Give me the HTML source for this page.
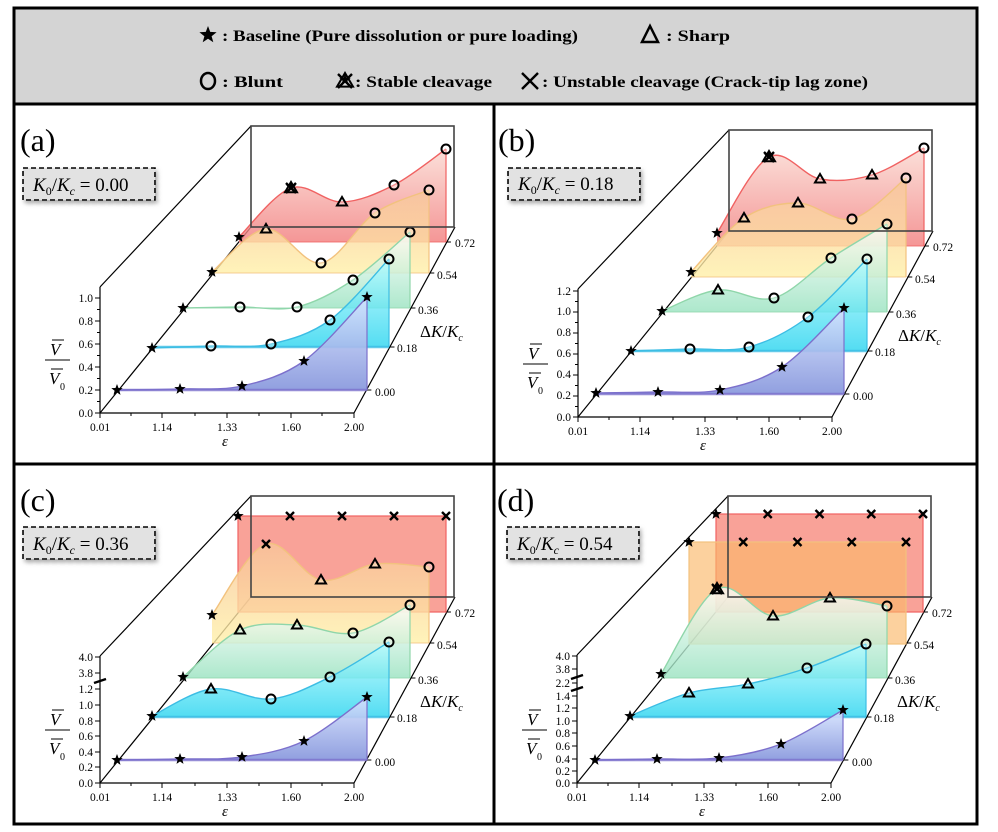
<!DOCTYPE html>
<html><head><meta charset="utf-8"><style>
html,body{margin:0;padding:0;background:#fff}
svg{display:block}
text{font-family:"Liberation Serif","DejaVu Serif",serif;fill:#000}
.t{font-size:11.5px;text-anchor:end}
.x{font-size:11.5px;text-anchor:middle}
.d{font-size:11.5px}
.lg{font-size:16px;font-weight:bold}
</style></head><body>
<svg id="s" width="998" height="832" viewBox="0 0 998 832" xmlns="http://www.w3.org/2000/svg" font-family="'Liberation Serif', 'DejaVu Serif', serif">
<defs>
<linearGradient id="g0" x1="0" y1="0" x2="0" y2="1"><stop offset="0" stop-color="#d6e4ff"/><stop offset="1" stop-color="#8595dc"/></linearGradient>
<linearGradient id="g1" x1="0" y1="0" x2="0" y2="1"><stop offset="0" stop-color="#b8fcff"/><stop offset="1" stop-color="#28d4ef"/></linearGradient>
<linearGradient id="g2" x1="0" y1="0" x2="0" y2="1"><stop offset="0" stop-color="#ffffff"/><stop offset="1" stop-color="#98e2bf"/></linearGradient>
<linearGradient id="g3" x1="0" y1="0" x2="0" y2="1"><stop offset="0" stop-color="#f8c49a"/><stop offset="1" stop-color="#fff0a8"/></linearGradient>
<linearGradient id="g4" x1="0" y1="0" x2="0" y2="1"><stop offset="0" stop-color="#fad8d0"/><stop offset="1" stop-color="#f27c7c"/></linearGradient>
<filter id="sh" x="-10%" y="-10%" width="130%" height="150%"><feDropShadow dx="2" dy="3" stdDeviation="2" flood-color="#777" flood-opacity="0.6"/></filter>
</defs>
<rect x="14" y="8" width="963" height="96" fill="#d4d4d4"/>
<g id="panels"></g>
<g stroke="#000" stroke-width="3" fill="none">
<rect x="14" y="8" width="963" height="816"/>
<line x1="14" y1="104" x2="977" y2="104"/>
<line x1="14" y1="464" x2="977" y2="464"/>
<line x1="494" y1="104" x2="494" y2="824"/>
</g>
<g id="leg"></g>
<text class="lg" x="222" y="41" textLength="356" lengthAdjust="spacingAndGlyphs">: Baseline (Pure dissolution or pure loading)</text>
<text class="lg" x="666" y="41" textLength="64" lengthAdjust="spacingAndGlyphs">: Sharp</text>
<text class="lg" x="222" y="87" textLength="61" lengthAdjust="spacingAndGlyphs">: Blunt</text>
<text class="lg" x="355" y="87" textLength="137" lengthAdjust="spacingAndGlyphs">: Stable cleavage</text>
<text class="lg" x="542" y="87" textLength="326" lengthAdjust="spacingAndGlyphs">: Unstable cleavage (Crack-tip lag zone)</text>

<g transform="translate(0,0)">
<text x="20" y="151" font-size="32">(a)</text>
<text class="t" x="93" y="417">0.0</text><text class="t" x="93" y="394">0.2</text><text class="t" x="93" y="371">0.4</text><text class="t" x="93" y="348">0.6</text><text class="t" x="93" y="325">0.8</text><text class="t" x="93" y="302">1.0</text>
</g>
<g transform="translate(478,4)">
<text x="20" y="147" font-size="32">(b)</text>
<text class="t" x="93" y="417">0.0</text><text class="t" x="93" y="395">0.2</text><text class="t" x="93" y="374">0.4</text><text class="t" x="93" y="353">0.6</text><text class="t" x="93" y="332">0.8</text><text class="t" x="93" y="311">1.0</text><text class="t" x="93" y="291">1.2</text>
</g>
<g transform="translate(0,370)">
<text x="20" y="141" font-size="32">(c)</text>
<text class="t" x="93" y="417">0.0</text><text class="t" x="93" y="401">0.2</text><text class="t" x="93" y="386">0.4</text><text class="t" x="93" y="370">0.6</text><text class="t" x="93" y="355">0.8</text><text class="t" x="93" y="339">1.0</text><text class="t" x="93" y="323">1.2</text><text class="t" x="93" y="307">3.8</text><text class="t" x="93" y="291">4.0</text>
</g>
<g transform="translate(477,370)">
<text x="20" y="141" font-size="32">(d)</text>
<text class="t" x="93" y="417">0.0</text><text class="t" x="93" y="405">0.2</text><text class="t" x="93" y="393">0.4</text><text class="t" x="93" y="380">0.6</text><text class="t" x="93" y="367">0.8</text><text class="t" x="93" y="355">1.0</text><text class="t" x="93" y="342">1.2</text><text class="t" x="93" y="330">1.4</text><text class="t" x="93" y="317">2.2</text><text class="t" x="93" y="303">3.8</text><text class="t" x="93" y="290">4.0</text>
</g>
<g transform="translate(0,0)"><text x="33" y="191" font-size="19"><tspan font-style="italic">K</tspan><tspan font-size="12" dy="4">0</tspan><tspan dy="-4">/</tspan><tspan font-style="italic">K</tspan><tspan font-size="12" dy="4" font-style="italic">c</tspan><tspan dy="-4"> = 0.00</tspan></text></g>
<g transform="translate(478,4)"><text x="40" y="186" font-size="19"><tspan font-style="italic">K</tspan><tspan font-size="12" dy="4">0</tspan><tspan dy="-4">/</tspan><tspan font-style="italic">K</tspan><tspan font-size="12" dy="4" font-style="italic">c</tspan><tspan dy="-4"> = 0.18</tspan></text></g>
<g transform="translate(0,370)"><text x="33" y="180" font-size="19"><tspan font-style="italic">K</tspan><tspan font-size="12" dy="4">0</tspan><tspan dy="-4">/</tspan><tspan font-style="italic">K</tspan><tspan font-size="12" dy="4" font-style="italic">c</tspan><tspan dy="-4"> = 0.36</tspan></text></g>
<g transform="translate(477,370)"><text x="40" y="180" font-size="19"><tspan font-style="italic">K</tspan><tspan font-size="12" dy="4">0</tspan><tspan dy="-4">/</tspan><tspan font-style="italic">K</tspan><tspan font-size="12" dy="4" font-style="italic">c</tspan><tspan dy="-4"> = 0.54</tspan></text></g>
<g>
<g transform="translate(0,0)"><text class="x" x="100" y="431">0.01</text><text class="x" x="162" y="431">1.14</text><text class="x" x="227" y="431">1.33</text><text class="x" x="291" y="431">1.60</text><text class="x" x="354" y="431">2.00</text><text x="222" y="446" font-size="15" font-style="italic">ε</text><text class="d" x="375" y="396">0.00</text><text class="d" x="397" y="352">0.18</text><text class="d" x="418" y="314">0.36</text><text class="d" x="437" y="279">0.54</text><text class="d" x="455" y="247">0.72</text><text x="420" y="337" font-size="17"><tspan>Δ</tspan><tspan font-style="italic">K</tspan>/<tspan font-style="italic">K</tspan><tspan font-size="10" dy="4" font-style="italic">c</tspan></text><text x="50" y="355" font-size="17" font-style="italic">V</text><text x="49" y="384" font-size="17" font-style="italic">V</text><text x="60" y="390" font-size="10">0</text></g>
<g transform="translate(478,4)"><text class="x" x="100" y="431">0.01</text><text class="x" x="162" y="431">1.14</text><text class="x" x="227" y="431">1.33</text><text class="x" x="291" y="431">1.60</text><text class="x" x="354" y="431">2.00</text><text x="222" y="446" font-size="15" font-style="italic">ε</text><text class="d" x="375" y="396">0.00</text><text class="d" x="397" y="352">0.18</text><text class="d" x="418" y="314">0.36</text><text class="d" x="437" y="279">0.54</text><text class="d" x="455" y="247">0.72</text><text x="420" y="337" font-size="17"><tspan>Δ</tspan><tspan font-style="italic">K</tspan>/<tspan font-style="italic">K</tspan><tspan font-size="10" dy="4" font-style="italic">c</tspan></text><text x="50" y="355" font-size="17" font-style="italic">V</text><text x="49" y="384" font-size="17" font-style="italic">V</text><text x="60" y="390" font-size="10">0</text></g>
<g transform="translate(0,370)"><text class="x" x="100" y="431">0.01</text><text class="x" x="162" y="431">1.14</text><text class="x" x="227" y="431">1.33</text><text class="x" x="291" y="431">1.60</text><text class="x" x="354" y="431">2.00</text><text x="222" y="446" font-size="15" font-style="italic">ε</text><text class="d" x="375" y="396">0.00</text><text class="d" x="397" y="352">0.18</text><text class="d" x="418" y="314">0.36</text><text class="d" x="437" y="279">0.54</text><text class="d" x="455" y="247">0.72</text><text x="420" y="337" font-size="17"><tspan>Δ</tspan><tspan font-style="italic">K</tspan>/<tspan font-style="italic">K</tspan><tspan font-size="10" dy="4" font-style="italic">c</tspan></text><text x="50" y="355" font-size="17" font-style="italic">V</text><text x="49" y="384" font-size="17" font-style="italic">V</text><text x="60" y="390" font-size="10">0</text></g>
<g transform="translate(477,370)"><text class="x" x="100" y="431">0.01</text><text class="x" x="162" y="431">1.14</text><text class="x" x="227" y="431">1.33</text><text class="x" x="291" y="431">1.60</text><text class="x" x="354" y="431">2.00</text><text x="222" y="446" font-size="15" font-style="italic">ε</text><text class="d" x="375" y="396">0.00</text><text class="d" x="397" y="352">0.18</text><text class="d" x="418" y="314">0.36</text><text class="d" x="437" y="279">0.54</text><text class="d" x="455" y="247">0.72</text><text x="420" y="337" font-size="17"><tspan>Δ</tspan><tspan font-style="italic">K</tspan>/<tspan font-style="italic">K</tspan><tspan font-size="10" dy="4" font-style="italic">c</tspan></text><text x="50" y="355" font-size="17" font-style="italic">V</text><text x="49" y="384" font-size="17" font-style="italic">V</text><text x="60" y="390" font-size="10">0</text></g>
</g>
</svg>
<script>
var NS="http://www.w3.org/2000/svg";
function el(p,t,a){var e=document.createElementNS(NS,t);for(var k in a)e.setAttribute(k,a[k]);p.appendChild(e);return e;}
function cr(pts){var d="M"+pts[0][0]+","+pts[0][1];for(var i=0;i<pts.length-1;i++){var p0=pts[i-1]||pts[i],p1=pts[i],p2=pts[i+1],p3=pts[i+2]||p2;
var c1=[p1[0]+(p2[0]-p0[0])/6,p1[1]+(p2[1]-p0[1])/6],c2=[p2[0]-(p3[0]-p1[0])/6,p2[1]-(p3[1]-p1[1])/6];
d+=" C"+c1.join(",")+" "+c2.join(",")+" "+p2.join(",");}return d;}
function star(g,x,y,r){var s="";for(var i=0;i<10;i++){var a=-Math.PI/2+i*Math.PI/5,rr=i%2?r*0.42:r;s+=(x+rr*Math.cos(a)).toFixed(1)+","+(y+rr*Math.sin(a)).toFixed(1)+" ";}el(g,"polygon",{points:s,fill:"#000"});}
function circ(g,x,y,r){el(g,"circle",{cx:x,cy:y,r:r||4.5,fill:"#fff","fill-opacity":"0.3",stroke:"#000","stroke-width":2});}
function tri(g,x,y,r){r=r||5;el(g,"polygon",{points:x+","+(y-r)+" "+(x-r)+","+(y+r*0.7)+" "+(x+r)+","+(y+r*0.7),fill:"#fff","fill-opacity":"0.3",stroke:"#000","stroke-width":2,"stroke-linejoin":"miter"});}
function cross(g,x,y,r){r=r||4;el(g,"path",{d:"M"+(x-r)+","+(y-r)+"L"+(x+r)+","+(y+r)+"M"+(x+r)+","+(y-r)+"L"+(x-r)+","+(y+r),stroke:"#000","stroke-width":2.4});}
function stab(g,x,y){tri(g,x,y,6);cross(g,x,y,5);star(g,x,y-1,5);}
function mk(g,t,x,y){if(t=="s")star(g,x,y,6);else if(t=="o")circ(g,x,y);else if(t=="t")tri(g,x,y);else if(t=="x")cross(g,x,y);else if(t=="z")stab(g,x,y);}
var cols=["#7c70cc","#3cbde4","#8fd6aa","#f2c27e","#f06262"];
var base=[390,347,308,273,242];
var P=[
 {o:[0,0],yt:[[413,1],[401.5,0],[390,1],[378.5,0],[367,1],[355.5,0],[344,1],[332.5,0],[321,1],[309.5,0],[298,1]],top:287,brk:[],
  S:[[[117,390,"s"],[180,389,"s"],[242,386,"s"],[304,361,"s"],[367,297,"s"]],
     [[152,348,"s"],[211,346,"o"],[271,344,"o"],[330,320,"o"],[389,259,"o"]],
     [[183,308,"s"],[240,307,"o"],[297,307,"o"],[353,280,"o"],[410,232,"o"]],
     [[212,272,"s"],[266,229,"t"],[321,263,"o"],[375,213,"o"],[429,190,"o"]],
     [[239,237,"s"],[291,188,"z"],[342,202,"t"],[394,185,"o"],[446,149,"o"]]],box:[23,168]},
 {o:[478,4],yt:[[413,1],[402.5,0],[392,1],[381.5,0],[371,1],[360.5,0],[350,1],[339.5,0],[329,1],[318.5,0],[308,1],[297.5,0],[287,1]],top:285,brk:[],
  S:[[[118,389,"s"],[180,388,"s"],[242,386,"s"],[304,363,"s"],[366,304,"s"]],
     [[153,347,"s"],[212,345,"o"],[271,343,"o"],[330,313,"o"],[389,255,"o"]],
     [[184,307,"s"],[240,286,"t"],[296,294,"o"],[353,254,"o"],[409,220,"o"]],
     [[213,268,"s"],[266,214,"t"],[320,199,"t"],[374,215,"o"],[428,174,"o"]],
     [[239,229,"s"],[291,153,"z"],[342,175,"t"],[394,171,"t"],[446,144,"o"]]],box:[30,164]},
 {o:[0,370],yt:[[413,1],[397,1],[382,1],[366,1],[351,1],[335,1],[319,1],[303,1],[287,1]],top:286,brk:[311],
  S:[[[117,390,"s"],[180,389,"s"],[242,387,"s"],[304,371,"s"],[367,327,"s"]],
     [[152,346,"s"],[211,319,"t"],[271,329,"o"],[330,307,"o"],[389,272,"o"]],
     [[183,307,"s"],[240,260,"t"],[297,255,"t"],[353,263,"o"],[410,235,"o"]],
     [[212,245,"s"],[266,174,"x"],[321,210,"t"],[375,194,"t"],[429,197,"o"]],
     "R"],R4:[238,446,146,242,["s","x","x","x","x"]],box:[23,157]},
 {o:[477,370],yt:[[413,1],[401,1],[389,1],[376,1],[363,1],[351,1],[338,1],[326,1],[313,1],[299,1],[286,1]],top:285,brk:[307,319],
  S:[[[118,390,"s"],[180,389,"s"],[242,388,"s"],[304,374,"s"],[366,340,"s"]],
     [[153,346,"s"],[212,323,"t"],[271,314,"t"],[330,298,"o"],[389,274,"o"]],
     [[184,304,"s"],[240,219,"z"],[296,246,"t"],[353,228,"t"],[410,236,"o"]],
     "R","R"],R3:[212,429,172,274,["s","x","x","x","x"]],R4:[239,446,144,242,["s","x","x","x","x"]],box:[30,157]}
];
var root=document.getElementById("panels");
var leg=document.getElementById("leg");
star(leg,208,35,9);
el(leg,"polygon",{points:"650,26 642,42 658,42",fill:"none",stroke:"#000","stroke-width":2.5});
el(leg,"ellipse",{cx:208,cy:81,rx:7,ry:8,fill:"none",stroke:"#000","stroke-width":2.5});
tri(leg,345,81,8);cross(leg,345,81,7);star(leg,345,80,6);
cross(leg,530,81,8);
P.forEach(function(p,pi){
 var g=el(root,"g",{transform:"translate("+p.o[0]+","+p.o[1]+")"});
 el(g,"rect",{x:p.box[0],y:p.box[1],width:132,height:32,fill:"#e2e2e2",stroke:"#000","stroke-width":1.6,"stroke-dasharray":"5,3",filter:"url(#sh)"});
 var L={stroke:"#000","stroke-width":1.2,fill:"none"};
 el(g,"line",Object.assign({x1:100,y1:p.top,x2:251,y2:126},L));
 el(g,"line",Object.assign({x1:100,y1:413,x2:251,y2:227},L));
 el(g,"line",Object.assign({x1:354,y1:413,x2:455,y2:227},L));
 el(g,"line",Object.assign({x1:100,y1:413,x2:354,y2:413},L));
 el(g,"line",Object.assign({x1:100,y1:413,x2:100,y2:p.top},L));
 p.yt.forEach(function(t){el(g,"line",{x1:t[1]?95:97,y1:t[0],x2:100,y2:t[0],stroke:"#000","stroke-width":1});});
 p.brk.forEach(function(b){el(g,"line",{x1:94,y1:b+2,x2:106,y2:b-2,stroke:"#000","stroke-width":2.5});});
 [100,131,162,195,227,259,291,322,354].forEach(function(x,i){el(g,"line",{x1:x,y1:413,x2:x,y2:i%2?416:418,stroke:"#000","stroke-width":1});});
 [390,347,308,273,242].forEach(function(y){var x=354+(413-y)*100/186;el(g,"line",{x1:x,y1:y,x2:x+5,y2:y,stroke:"#000","stroke-width":1});});
 for(var s=4;s>=0;s--){
  var S=p.S[s];
  if(S=="R"){var R=p["R"+s];
   el(g,"rect",{x:R[0],y:R[2],width:R[1]-R[0],height:R[3]-R[2],fill:s==4?"#f67a6c":"#fbb86a","fill-opacity":s==4?0.7:0.65,stroke:cols[s],"stroke-width":1.2});
   for(var k=0;k<5;k++)mk(g,R[4][k],R[0]+(R[1]-R[0])*k/4,R[2]);
   continue;}
  var pts=S.map(function(q){return [q[0],q[1]];});
  var c=cr(pts),b=base[s],x0=pts[0][0],xn=pts[4][0];
  el(g,"path",{d:"M"+x0+","+b+" L"+x0+","+pts[0][1]+c.replace(/^M[^C]*/," ")+" L"+xn+","+b+" Z",fill:"url(#g"+s+")","fill-opacity":s==0?0.9:0.8,stroke:"none"});
  el(g,"path",{d:c,fill:"none",stroke:cols[s],"stroke-width":1.4});
  el(g,"line",{x1:x0,y1:b,x2:xn,y2:b,stroke:cols[s],"stroke-width":s<2?2.5:1,"stroke-opacity":0.8});
  el(g,"line",{x1:xn,y1:b,x2:xn,y2:pts[4][1],stroke:cols[s],"stroke-width":1.2});
  S.forEach(function(q){mk(g,q[2],q[0],q[1]);});
 }
 el(g,"rect",{x:251,y:126,width:203,height:101,fill:"none",stroke:"#444","stroke-width":1.6});
 el(g,"line",{x1:45,y1:360,x2:70,y2:360,stroke:"#000","stroke-width":1});
 el(g,"line",{x1:52,y1:340,x2:64,y2:340,stroke:"#000","stroke-width":1});
 el(g,"line",{x1:51,y1:369,x2:63,y2:369,stroke:"#000","stroke-width":1});
});
</script>
</body></html>
